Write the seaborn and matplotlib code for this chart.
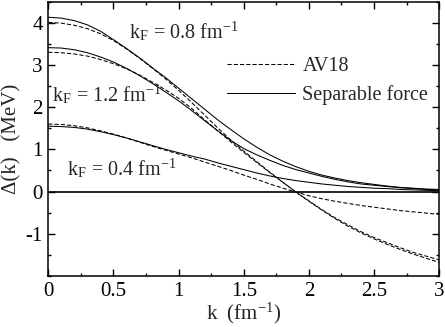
import numpy as np
import pandas as pd
import matplotlib
matplotlib.use('Agg')
import matplotlib.pyplot as plt
from matplotlib.lines import Line2D
from matplotlib.ticker import MultipleLocator
import seaborn as sns

# momentum grid (fm^-1), 0 to 3 in steps of 0.1
k = [0.0, 0.1, 0.2, 0.3, 0.4, 0.5, 0.6, 0.7, 0.8, 0.9, 1.0,
     1.1, 1.2, 1.3, 1.4, 1.5, 1.6, 1.7, 1.8, 1.9, 2.0,
     2.1, 2.2, 2.3, 2.4, 2.5, 2.6, 2.7, 2.8, 2.9, 3.0]

# gap Delta(k) in MeV
av18_04 = [1.60, 1.59, 1.56, 1.51, 1.44, 1.36, 1.27, 1.17, 1.07, 0.98, 0.89,
           0.80, 0.70, 0.60, 0.50, 0.39, 0.29, 0.18, 0.08, -0.01, -0.10,
           -0.17, -0.23, -0.28, -0.33, -0.37, -0.41, -0.45, -0.48, -0.51, -0.54]
av18_08 = [4.01, 3.99, 3.94, 3.86, 3.74, 3.58, 3.38, 3.16, 2.92, 2.67, 2.40,
           2.11, 1.81, 1.51, 1.22, 0.96, 0.71, 0.46, 0.22, -0.01, -0.22,
           -0.43, -0.62, -0.79, -0.95, -1.09, -1.21, -1.33, -1.44, -1.53, -1.62]
av18_12 = [3.30, 3.29, 3.26, 3.21, 3.13, 3.03, 2.91, 2.76, 2.59, 2.41, 2.21,
           1.97, 1.70, 1.44, 1.18, 0.93, 0.69, 0.45, 0.22, -0.01, -0.23,
           -0.44, -0.64, -0.82, -0.98, -1.12, -1.25, -1.37, -1.48, -1.58, -1.68]
sep_04 = [1.55, 1.54, 1.52, 1.48, 1.42, 1.35, 1.27, 1.18, 1.09, 1.00, 0.92,
          0.84, 0.77, 0.68, 0.60, 0.52, 0.44, 0.37, 0.31, 0.26, 0.22,
          0.18, 0.15, 0.12, 0.10, 0.08, 0.07, 0.05, 0.04, 0.03, 0.02]
sep_08 = [4.13, 4.11, 4.05, 3.95, 3.80, 3.60, 3.39, 3.17, 2.93, 2.70, 2.45,
          2.20, 1.95, 1.70, 1.47, 1.25, 1.05, 0.87, 0.72, 0.59, 0.48,
          0.39, 0.32, 0.26, 0.21, 0.17, 0.13, 0.10, 0.08, 0.06, 0.05]
sep_12 = [3.41, 3.40, 3.36, 3.29, 3.19, 3.07, 2.92, 2.75, 2.56, 2.36, 2.15,
          1.92, 1.68, 1.44, 1.21, 1.02, 0.87, 0.74, 0.62, 0.52, 0.44,
          0.36, 0.29, 0.23, 0.18, 0.15, 0.12, 0.09, 0.07, 0.05, 0.04]

rows = []
for name, kf, vals in [('AV18', 0.4, av18_04), ('AV18', 0.8, av18_08), ('AV18', 1.2, av18_12),
                       ('Separable force', 0.4, sep_04), ('Separable force', 0.8, sep_08),
                       ('Separable force', 1.2, sep_12)]:
    for kk, v in zip(k, vals):
        rows.append({'k': kk, 'delta': v, 'kF': kf, 'model': name, 'curve': f'{name}{kf}'})
df = pd.DataFrame(rows)

sns.set_style('ticks')
plt.rcParams['font.family'] = ['Liberation Serif', 'DejaVu Serif']
plt.rcParams['mathtext.fontset'] = 'stix'
plt.rcParams['axes.unicode_minus'] = False

fig = plt.figure(figsize=(4.45, 3.27), dpi=100)
ax = fig.add_axes([0.1085, 0.156, 0.8785, 0.839])

dash = (4, 2)
sns.lineplot(data=df, x='k', y='delta', units='curve', style='model', estimator=None,
             color='black', lw=0.75, dashes={'AV18': dash, 'Separable force': ''},
             legend=False, ax=ax)

ax.axhline(0, color='black', lw=1.2)

ax.set_xlim(0, 3)
ax.set_ylim(-2, 4.5)
ax.xaxis.set_minor_locator(MultipleLocator(0.25))
ax.yaxis.set_minor_locator(MultipleLocator(0.5))
ax.set_yticks([-1, 0, 1, 2, 3, 4])
ax.set_xticks([0, 0.5, 1, 1.5, 2, 2.5, 3])
ax.set_xticklabels(['0', '0.5', '1', '1.5', '2', '2.5', '3'])
ax.tick_params(which='both', direction='in', top=True, right=True, width=1, labelsize=15, colors='black')
ax.tick_params(which='major', length=5, pad=4)
ax.tick_params(which='minor', length=2.5)
for s in ax.spines.values():
    s.set_linewidth(1.1)
    s.set_color('black')

ax.set_xlabel(r'k  (fm$^{\mathregular{-1}}$)', fontsize=15, labelpad=0)
ax.set_ylabel('Δ(k)   (MeV)', fontsize=15, labelpad=3)

fs = 14.5
ax.text(0.62, 3.62, r'k$_{\mathregular{F}}$ = 0.8 fm$^{\mathregular{-1}}$', fontsize=fs, va='baseline')
ax.text(0.03, 2.12, r'k$_{\mathregular{F}}$ = 1.2 fm$^{\mathregular{-1}}$', fontsize=fs, va='baseline')
ax.text(0.14, 0.36, r'k$_{\mathregular{F}}$ = 0.4 fm$^{\mathregular{-1}}$', fontsize=fs, va='baseline')

handles = [Line2D([], [], color='black', lw=0.75, dashes=dash),
           Line2D([], [], color='black', lw=0.75)]
ax.legend(handles, ['AV18', 'Separable force'], loc='upper left', bbox_to_anchor=(0.457, 0.80),
          frameon=False, fontsize=fs, handlelength=3.4, handletextpad=0.35,
          labelspacing=0.45, borderpad=0, borderaxespad=0)

fig.savefig('out.png', dpi=100)
